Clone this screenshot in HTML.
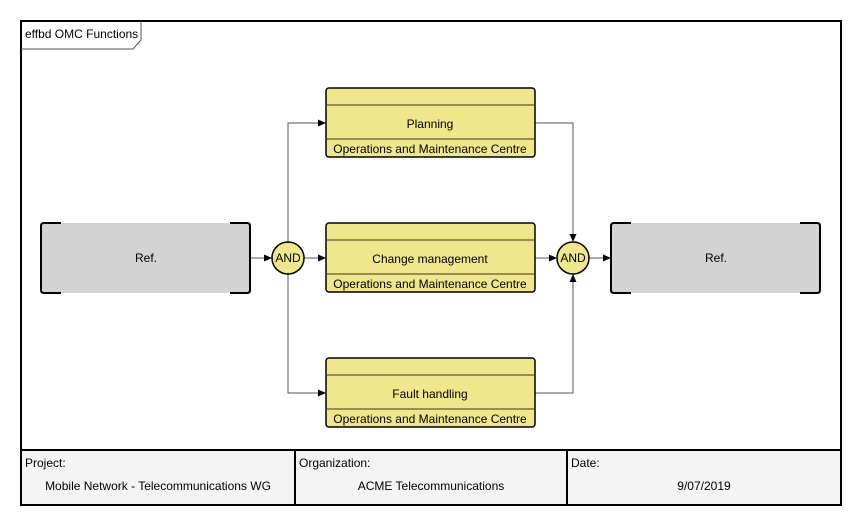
<!DOCTYPE html>
<html><head><style>body{margin:0;background:#fff}svg{display:block}text{font-family:"Liberation Sans",sans-serif;font-size:12px;fill:#000}</style></head><body>
<svg width="862" height="525" viewBox="0 0 862 525">
<defs><marker id="a" markerWidth="8" markerHeight="8" refX="7" refY="4" orient="auto" markerUnits="userSpaceOnUse"><path d="M0,0.5 L8,4 L0,7.5z" fill="#000"/></marker></defs>
<rect x="21" y="21" width="820" height="484" fill="#fff" stroke="#000" stroke-width="2"/>
<path d="M21,49 H133 L141,40 V21" fill="none" stroke="#555" stroke-width="1"/>
<text x="25" y="38">effbd OMC Functions</text>
<!-- bottom table -->
<rect x="21" y="450" width="820" height="55" fill="#f4f4f4" stroke="#000" stroke-width="2"/>
<line x1="295" y1="450" x2="295" y2="505" stroke="#000" stroke-width="2"/>
<line x1="567" y1="450" x2="567" y2="505" stroke="#000" stroke-width="2"/>
<text x="25" y="467">Project:</text><text x="158" y="490" text-anchor="middle">Mobile Network - Telecommunications WG</text>
<text x="299" y="467">Organization:</text><text x="431" y="490" text-anchor="middle">ACME Telecommunications</text>
<text x="571" y="467">Date:</text><text x="704" y="490" text-anchor="middle">9/07/2019</text>
<!-- connectors -->
<g stroke="#555" stroke-width="1" fill="none">
<line x1="250" y1="258" x2="271" y2="258" marker-end="url(#a)"/>
<line x1="304" y1="258" x2="325" y2="258" marker-end="url(#a)"/>
<path d="M288,242 V123 H325" marker-end="url(#a)"/>
<path d="M288,274 V393 H325" marker-end="url(#a)"/>
<line x1="535" y1="258" x2="556" y2="258" marker-end="url(#a)"/>
<path d="M535,123 H573 V241" marker-end="url(#a)"/>
<path d="M535,393 H573 V275" marker-end="url(#a)"/>
<line x1="589" y1="258" x2="610" y2="258" marker-end="url(#a)"/>
</g>
<!-- Ref boxes -->
<g>
<rect x="41" y="223" width="209" height="70" fill="#d3d3d3"/>
<path d="M61,223 H44 Q41,223 41,226 V290 Q41,293 44,293 H61 M230,223 H247 Q250,223 250,226 V290 Q250,293 247,293 H230" fill="none" stroke="#000" stroke-width="2"/>
<text x="146" y="262" text-anchor="middle">Ref.</text>
<rect x="611" y="223" width="209" height="70" fill="#d3d3d3"/>
<path d="M631,223 H614 Q611,223 611,226 V290 Q611,293 614,293 H631 M800,223 H817 Q820,223 820,226 V290 Q820,293 817,293 H800" fill="none" stroke="#000" stroke-width="2"/>
<text x="716" y="262" text-anchor="middle">Ref.</text>
</g>
<!-- AND -->
<circle cx="288" cy="258" r="16" fill="#f0e68c" stroke="#000" stroke-width="1.5"/>
<text x="288" y="262" text-anchor="middle">AND</text>
<circle cx="573" cy="258" r="16" fill="#f0e68c" stroke="#000" stroke-width="1.5"/>
<text x="573" y="262" text-anchor="middle">AND</text>
<!-- function boxes -->
<g id="f">
<rect x="326" y="88" width="209" height="69" rx="3" fill="#f0e68c" stroke="#000" stroke-width="1.5"/>
<line x1="327" y1="105" x2="534" y2="105" stroke="#7a7040" stroke-width="1.5"/>
<line x1="327" y1="139" x2="534" y2="139" stroke="#7a7040" stroke-width="1.5"/>
</g>
<use href="#f" y="135"/><use href="#f" y="270"/>
<text x="430" y="128" text-anchor="middle">Planning</text>
<text x="430" y="153" text-anchor="middle">Operations and Maintenance Centre</text>
<text x="430" y="263" text-anchor="middle">Change management</text>
<text x="430" y="288" text-anchor="middle">Operations and Maintenance Centre</text>
<text x="430" y="398" text-anchor="middle">Fault handling</text>
<text x="430" y="423" text-anchor="middle">Operations and Maintenance Centre</text>
</svg>
</body></html>
